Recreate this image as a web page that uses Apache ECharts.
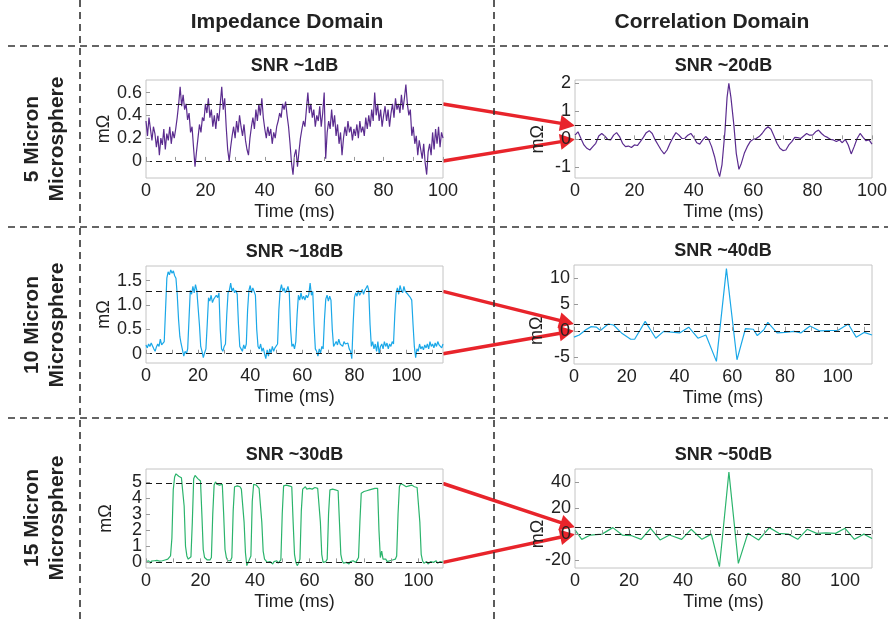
<!DOCTYPE html>
<html>
<head>
<meta charset="utf-8">
<script src="https://cdn.jsdelivr.net/npm/echarts@6/dist/echarts.min.js"></script>
<style>html,body{margin:0;background:#fff}#chart{width:895px;height:621px}</style>
</head>
<body>
<div id="chart"></div>
<script>
// impedance traces, one value every sampleStep ms
var sampleStep = 0.5;
var imp5 = [0.35,0.22,0.38,0.28,0.18,0.3,0.24,0.12,0.22,0.05,0.2,
  0.14,0.28,0.1,0.24,0.18,0.3,0.15,0.26,0.2,0.28,
  0.38,0.5,0.65,0.48,0.58,0.45,
  0.5,0.36,0.42,0.25,0.3,0.12,-0.05,0.08,
  0.2,0.32,0.25,0.38,0.35,0.5,
  0.42,0.55,0.38,0.45,0.3,0.4,
  0.28,0.42,0.35,0.5,0.65,0.45,0.55,0.3,
  0.1,0.0,0.12,0.22,0.3,0.2,
  0.35,0.25,0.4,0.3,0.22,0.32,
  0.18,0.1,0.05,0.2,
  0.3,0.38,0.28,0.45,0.35,0.5,0.4,0.55,0.38,0.28,
  0.2,0.3,0.22,0.28,0.15,0.25,0.2,0.3,
  0.35,0.42,0.38,0.5,0.45,0.52,0.4,0.3,
  0.15,-0.02,-0.12,0.05,
  0.1,-0.05,0.08,0.2,
  0.28,0.35,0.3,0.45,0.6,0.42,
  0.5,0.38,0.45,0.3,0.4,0.35,0.48,0.3,0.42,0.6,
  0.02,0.25,0.35,0.28,
  0.45,0.3,0.4,0.22,0.32,0.15,0.25,0.05,
  0.2,0.3,0.22,0.35,0.25,0.3,0.18,0.28,
  0.22,0.32,0.2,0.35,0.25,0.3,0.22,0.38,0.28,0.4,0.3,0.45,
  0.35,0.6,0.4,0.5,0.35,0.45,0.3,0.4,
  0.48,0.35,0.45,0.3,0.42,0.5,0.38,0.55,0.45,0.5,
  0.42,0.58,0.45,0.55,0.67,0.5,
  0.4,0.45,0.22,0.3,
  0.15,0.22,0.05,0.18,0.1,0.02,0.15,-0.02,
  -0.12,0.08,0.15,0.05,
  0.25,0.1,0.28,0.15,0.3,0.12,0.25,0.2];
var imp10 = [0.18,0.12,0.2,0.15,0.22,0.16,0.1,0.05,0.14,0.2,0.15,0.3,0.18,0.22,0.25,
  0.9,
  1.55,1.68,1.62,1.72,1.65,1.7,1.6,1.55,
  1.2,0.7,0.35,0.2,0.08,-0.05,0.05,0.0,
  0.1,0.7,
  1.3,1.22,1.38,1.25,1.42,1.3,1.28,
  0.6,0.15,0.05,-0.08,0.02,0.1,
  0.6,
  1.15,1.08,1.2,1.05,1.12,1.08,1.2,1.15,1.25,
  0.5,0.1,0.05,0.15,0.2,
  0.8,
  1.25,1.3,1.45,1.28,1.35,1.25,1.3,1.22,
  0.6,0.15,0.1,0.05,0.18,0.1,0.2,
  0.9,
  1.3,1.4,1.25,1.35,1.28,1.2,
  0.5,0.15,0.1,0.2,0.05,0.12,0.0,-0.1,0.08,-0.05,0.1,0.02,0.15,0.05,0.12,0.08,0.2,
  0.9,
  1.3,1.42,1.28,1.35,1.25,1.3,1.38,1.25,
  0.5,0.15,0.2,0.1,0.25,
  0.8,
  1.2,1.1,1.25,1.12,1.18,1.1,1.2,1.15,1.22,1.45,1.2,1.28,
  0.6,0.1,0.05,-0.05,0.1,0.02,0.15,0.1,
  0.7,
  1.12,1.2,1.08,1.18,1.1,
  0.5,0.15,0.2,0.25,0.18,0.3,0.2,0.22,0.15,0.25,0.2,0.18,0.22,0.1,0.05,-0.1,
  0.6,
  1.15,1.25,1.18,1.3,1.2,1.25,1.32,1.22,1.3,1.35,1.4,1.3,
  0.6,0.15,0.25,0.1,0.2,0.05,0.25,0.0,0.15,0.2,0.1,0.25,0.15,0.22,0.1,0.2,0.15,0.25,0.2,
  0.8,
  1.25,1.35,1.22,1.4,1.3,1.25,1.38,1.28,1.3,1.22,1.2,1.15,
  1.1,0.6,
  0.15,-0.08,0.1,0.05,0.2,0.1,0.15,0.08,0.18,0.12,0.2,0.1,0.25,0.15,0.2,0.12,0.22,0.15,0.25,0.18,0.2,0.12,0.2];
var imp15 = [0.05,0.0,0.1,-0.05,0.08,0.02,0.1,0.0,0.12,0.05,0.08,0.15,0.1,0.2,0.15,0.25,0.2,0.3,0.4,
  1.5,4.5,
  5.3,5.5,5.45,5.35,5.3,5.25,5.2,
  3.5,1.0,
  0.4,0.2,0.25,0.35,
  2.5,
  5.2,5.4,5.3,5.2,5.1,5.05,
  3.0,0.8,
  0.3,0.2,0.15,0.2,0.15,0.3,
  3.0,
  4.8,5.0,4.85,4.95,4.8,4.9,4.85,
  3.0,0.8,
  0.3,0.1,0.2,0.1,0.3,
  3.2,
  4.7,4.6,4.75,4.65,4.7,4.55,4.6,
  2.5,0.6,
  -0.2,0.0,0.1,0.4,
  3.8,
  4.85,4.95,4.8,4.75,4.6,4.55,
  2.5,0.7,
  0.2,0.1,0.0,-0.1,0.05,0.0,-0.1,0.05,0.0,0.1,-0.05,0.05,0.15,
  3.0,
  4.75,4.85,4.8,4.9,4.75,4.8,4.7,
  2.5,0.5,
  0.0,-0.2,-0.05,0.2,
  3.2,
  4.55,4.6,4.7,4.55,4.65,4.6,4.7,4.55,4.6,4.65,4.55,4.6,4.5,
  2.5,0.5,
  0.0,-0.1,0.05,0.2,
  3.0,
  4.5,4.6,4.55,4.6,4.5,4.55,4.45,
  2.5,0.5,
  0.1,-0.05,0.05,0.0,0.1,-0.1,0.05,0.0,0.1,0.05,0.0,0.1,0.3,
  2.5,
  4.3,4.35,4.4,4.3,4.45,4.4,4.5,4.45,4.55,4.5,4.6,4.55,4.6,
  2.0,0.3,
  0.7,0.2,
  0.1,0.2,0.05,0.15,0.1,0.2,0.15,0.1,0.2,0.4,
  3.0,
  4.7,4.9,5.0,4.8,4.85,4.7,4.8,4.75,4.7,4.8,4.75,4.7,4.8,4.65,4.6,
  2.5,0.5,
  0.1,-0.05,0.0,0.05,-0.1,0.0,0.05,-0.05,0.0,0.05,0.1,-0.05,0.0,0.05,0.1,0.0];

// correlation traces, [time ms, value]
var corr5 = [[0,0.15],[1,0.27],[2,0.03],[3,-0.2],[4,-0.32],[5,-0.38],[6,-0.26],[7,-0.14],[8,0.12],[9,0.21],
  [10,0.12],[11,0.0],[12,-0.02],[13,0.15],[14,0.24],[15,0.1],[16,-0.14],[17,-0.26],[18,-0.24],[19,-0.29],
  [20,-0.2],[21,-0.22],[22,-0.08],[23,0.07],[24,0.24],[25,0.31],[26,0.21],[27,-0.02],[28,-0.2],[29,-0.38],
  [30,-0.52],[31,-0.38],[32,-0.14],[33,0.07],[34,0.24],[35,0.15],[36,0.03],[37,0.04],[38,0.15],[39,0.21],
  [40,0.07],[41,-0.12],[42,-0.17],[43,-0.02],[44,0.1],[45,0.0],[46,-0.26],[47,-0.62],[48,-1.1],[48.7,-1.33],
  [49.5,-0.9],[50.5,0.3],[51.2,1.5],[51.8,2.0],[52.5,1.5],[53.5,0.5],[54.3,-0.5],[55.2,-1.07],[56,-0.86],[57,-0.5],
  [58,-0.26],[59,-0.08],[60,0.0],[61,0.03],[62,0.1],[63,0.21],[64,0.36],[65,0.45],[66,0.36],[67,0.12],
  [68,-0.14],[69,-0.32],[70,-0.4],[71,-0.38],[72,-0.2],[73,-0.08],[74,0.07],[75,0.06],[76,0.03],[77,0.12],
  [78,0.21],[79,0.15],[80,0.15],[81,0.27],[82,0.33],[83,0.21],[84,0.12],[85,0.07],[86,0.0],[87,-0.02],
  [88,-0.08],[89,-0.02],[90,-0.12],[91,0.0],[92,-0.2],[93,-0.52],[94,-0.26],[95,0.03],[96,0.21],[97,0.07],
  [98,-0.05],[99,-0.02],[100,-0.17]];
var corr10 = [[0,-1.2],[2,-0.8],[4.5,0.2],[6.5,0.8],[8.5,0.7],[10,0.06],[13,1.3],[15,1.1],[18,-0.4],[21.5,-1.6],
  [23,-1.6],[27,1.8],[31,-1.4],[34,-0.1],[38,-0.3],[40,-0.4],[43.5,0.7],[47,-1.4],[50,-0.8],[54,-5.8],
  [57.8,11.8],[61.8,-5.5],[65,0.4],[68,0.3],[69.5,-0.9],[72,0.2],[73.5,1.6],[77,-0.4],[80,-0.3],[83.5,-0.1],
  [86,-0.4],[89.5,0.9],[93,0],[97,0.06],[100,0.06],[104,1.3],[107,-1.2],[110,-0.3],[113,-0.8]];
var corr15 = [[0,3.2],[2.5,-4],[5.7,-0.7],[10,0],[14,5],[17.5,-0.7],[21,-1.2],[24.5,-4],[28,4.5],[31.5,-4.5],
  [35,-0.7],[39.5,-4],[43,3.7],[47,-4],[50.5,0],[53.5,-25],[57,47.7],[60.5,-22.5],[64,0.6],[68,-4.5],
  [72,5],[75.5,0.6],[79,0],[82.5,-4],[86,3.7],[89.5,0.6],[93,1],[96.5,0.6],[100,4.5],[103.5,-4],
  [107,0],[110,-3.3]];

// dashed threshold levels
var levelsImp5 = [0.5, 0];
var levelsCorr5 = [0.49, 0];
var levelsImp10 = [1.28, 0];
var levelsCorr10 = [1.3, 0];
var levelsImp15 = [4.9, 0];
var levelsCorr15 = [5.2, 0];

// tick labels
var xLabels = [0, 20, 40, 60, 80, 100];
var xTicks = [0, 10, 20, 30, 40, 50, 60, 70, 80, 90, 100, 110];
var yTicksImp5 = [0, 0.2, 0.4, 0.6];
var yTicksCorr5 = [-1, 0, 1, 2];
var yTicksImp10 = [0, 0.5, 1.0, 1.5];
var yTicksCorr10 = [-5, 0, 5, 10];
var yTicksImp15 = [0, 1, 2, 3, 4, 5];
var yTicksCorr15 = [-20, 0, 20, 40];

var titles = ['SNR ~1dB', 'SNR ~20dB', 'SNR ~18dB', 'SNR ~40dB', 'SNR ~30dB', 'SNR ~50dB'];
var rowLabels = ['5 Micron\nMicrosphere', '10 Micron\nMicrosphere', '15 Micron\nMicrosphere'];

var FONT = 'Liberation Sans';
var purple = '#5b2c8f', cyan = '#1ba8e8', green = '#2bb46c', red = '#e8242b';

function asTime(vals){
    return vals.map(function(v, i){ return [i * sampleStep, v]; });
}

var panels = [
    {box:[146, 80, 297, 98],  data:asTime(imp5),  color:purple, xMax:100, yMin:-0.15, yMax:0.71, ticks:yTicksImp5,  levels:levelsImp5,  imp:true, fmt:1},
    {box:[575, 80, 297, 98],  data:corr5,         color:purple, xMax:100, yMin:-1.38, yMax:2.12, ticks:yTicksCorr5, levels:levelsCorr5, imp:false},
    {box:[146, 266, 297, 97], data:asTime(imp10), color:cyan,   xMax:114, yMin:-0.19, yMax:1.8,  ticks:yTicksImp10, levels:levelsImp10, imp:true, fmt:1},
    {box:[574, 265, 298, 99], data:corr10,        color:cyan,   xMax:113, yMin:-6.3,  yMax:12.5, ticks:yTicksCorr10,levels:levelsCorr10,imp:false},
    {box:[146, 469, 297, 99], data:asTime(imp15), color:green,  xMax:109, yMin:-0.35, yMax:5.8,  ticks:yTicksImp15, levels:levelsImp15, imp:true, dense:true},
    {box:[575, 469, 297, 99], data:corr15,        color:green,  xMax:110, yMin:-26,   yMax:50,   ticks:yTicksCorr15,levels:levelsCorr15,imp:false}
];

function yLabelStyle(p, values){
    return {color:'#222', fontSize:18, fontFamily:FONT, margin:4, customValues:values,
        hideOverlap:false, showMinLabel:true, showMaxLabel:true,
        formatter:function(v){ return (p.fmt && v !== 0) ? v.toFixed(1) : String(v); }};
}

var grids = [], xAxes = [], yAxes = [], extraY = [], series = [], titleList = [];
panels.forEach(function(p, k){
    grids.push({left:p.box[0], top:p.box[1], width:p.box[2], height:p.box[3],
        show:true, borderColor:'#c4c4c4', borderWidth:1, backgroundColor:'transparent'});
    xAxes.push({
        type:'value', gridIndex:k, min:0, max:p.xMax, z:5,
        axisLine:{show:false}, splitLine:{show:false},
        axisTick:{show:true, inside:true, length:4, lineStyle:{color:'#999'},
            customValues:xTicks.filter(function(v){ return v <= p.xMax; })},
        axisLabel:{color:'#222', fontSize:18, fontFamily:FONT, margin:4, customValues:xLabels,
            hideOverlap:false, showMinLabel:true, showMaxLabel:true},
        name:'Time (ms)', nameLocation:'middle', nameGap:25,
        nameTextStyle:{color:'#222', fontSize:18, fontFamily:FONT}
    });
    // tightly packed labels are shared between two overlaid axes so none get dropped
    var mainLabels = p.dense ? p.ticks.filter(function(v, i){ return i % 2 === 0; }) : p.ticks;
    yAxes.push({
        type:'value', gridIndex:k, min:p.yMin, max:p.yMax, z:5,
        axisLine:{show:false}, splitLine:{show:false},
        axisTick:{show:true, inside:true, length:4, lineStyle:{color:'#999'}, customValues:p.ticks},
        axisLabel:yLabelStyle(p, mainLabels),
        name:p.imp ? 'mΩ' : '', nameLocation:'middle', nameGap:31,
        nameTextStyle:{color:'#222', fontSize:18, fontFamily:FONT}
    });
    if (p.dense) {
        extraY.push({
            type:'value', gridIndex:k, min:p.yMin, max:p.yMax, position:'left', z:5,
            axisLine:{show:false}, splitLine:{show:false}, axisTick:{show:false},
            axisLabel:yLabelStyle(p, p.ticks.filter(function(v, i){ return i % 2 === 1; }))
        });
    }
    series.push({
        type:'line', xAxisIndex:k, yAxisIndex:k, data:p.data,
        showSymbol:false, lineStyle:{color:p.color, width:1.2}, itemStyle:{color:p.color},
        markLine:{silent:true, symbol:['none','none'], label:{show:false},
            lineStyle:{color:'#1a1a1a', type:[6,4], width:1.2},
            data:p.levels.map(function(v){ return {yAxis:v}; })}
    });
    titleList.push({text:titles[k], left:p.box[0] + p.box[2] / 2, textAlign:'center', top:p.box[1] - 23, padding:0,
        textStyle:{fontSize:18, fontWeight:'bold', color:'#222', fontFamily:FONT}});
});

var chart = echarts.init(document.getElementById('chart'));
chart.setOption({
    animation:false,
    title:titleList,
    grid:grids, xAxis:xAxes, yAxis:yAxes.concat(extraY), series:series
});

// frame, headers, row labels
var dash = {stroke:'#333', lineWidth:1.6, lineDash:[7,5]};
var graphics = [
    {type:'line', shape:{x1:80, y1:0, x2:80, y2:621}, style:dash},
    {type:'line', shape:{x1:494, y1:0, x2:494, y2:621}, style:dash},
    {type:'line', shape:{x1:8, y1:46, x2:888, y2:46}, style:dash},
    {type:'line', shape:{x1:8, y1:227, x2:888, y2:227}, style:dash},
    {type:'line', shape:{x1:8, y1:418, x2:888, y2:418}, style:dash},
    {type:'text', x:287, y:22, style:{text:'Impedance Domain', font:'bold 21px ' + FONT, fill:'#222', align:'center', verticalAlign:'middle'}},
    {type:'text', x:712, y:22, style:{text:'Correlation Domain', font:'bold 21px ' + FONT, fill:'#222', align:'center', verticalAlign:'middle'}}
];
var rowCenters = [139, 325, 518];
rowLabels.forEach(function(t, r){
    graphics.push({type:'text', x:45, y:rowCenters[r], rotation:Math.PI / 2,
        style:{text:t, font:'bold 21px ' + FONT, fill:'#222', align:'center', verticalAlign:'middle', lineHeight:25}});
});

// arrows from impedance thresholds to correlation thresholds (drawn under the axis text),
// plus mΩ labels on the correlation axes
for (var r = 0; r < 3; r++) {
    var pi = panels[2 * r], pc = panels[2 * r + 1];
    var zero = chart.convertToPixel({xAxisIndex:2 * r + 1, yAxisIndex:2 * r + 1}, [0, 0]);
    for (var j = 0; j < 2; j++) {
        var a = chart.convertToPixel({xAxisIndex:2 * r, yAxisIndex:2 * r}, [pi.xMax, pi.levels[j]]);
        var b = chart.convertToPixel({xAxisIndex:2 * r + 1, yAxisIndex:2 * r + 1}, [0, pc.levels[j]]);
        var dx = b[0] - a[0], dy = b[1] - a[1], len = Math.sqrt(dx * dx + dy * dy);
        var ux = dx / len, uy = dy / len, head = 15, half = 8;
        var bx = b[0] - ux * head, by = b[1] - uy * head;
        graphics.push({type:'line', z:-1, shape:{x1:a[0], y1:a[1], x2:bx + ux, y2:by + uy},
            style:{stroke:red, lineWidth:3.5}});
        graphics.push({type:'polygon', z:-1, shape:{points:[[b[0], b[1]],
            [bx - uy * half, by + ux * half], [bx + uy * half, by - ux * half]]}, style:{fill:red}});
    }
    graphics.push({type:'text', x:pc.box[0] - 37, y:zero[1], rotation:Math.PI / 2, z:50,
        style:{text:'mΩ', font:'18px ' + FONT, fill:'#222', align:'center', verticalAlign:'middle'}});
}
chart.setOption({graphic:graphics});
</script>
</body>
</html>
